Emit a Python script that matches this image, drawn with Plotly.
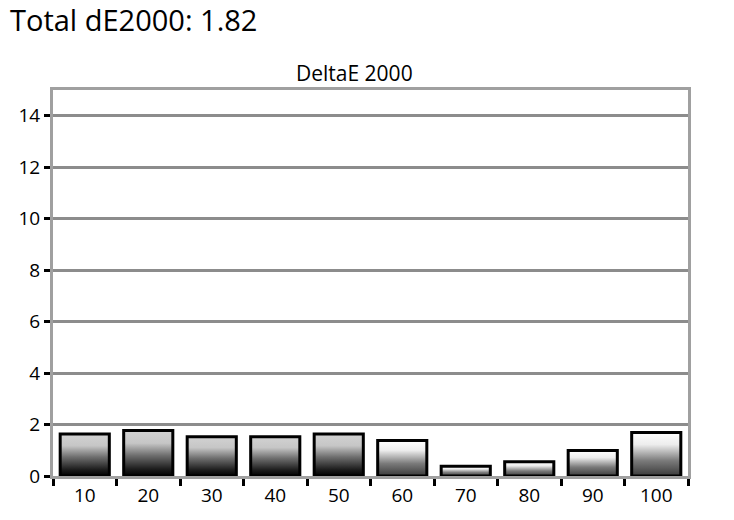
import plotly.graph_objects as go

categories = ["10", "20", "30", "40", "50", "60", "70", "80", "90", "100"]
delta_e = [1.63, 1.77, 1.53, 1.53, 1.63, 1.38, 0.38, 0.55, 0.99, 1.69]
y_ticks = [0, 2, 4, 6, 8, 10, 12, 14]
title_text = "Total dE2000: 1.82"
chart_label = "DeltaE 2000"

dark_scale = [[0, "#000000"], [0.15, "#1c1c1c"], [0.45, "#6e6e6e"], [0.72, "#c6c6c6"], [1, "#d2d2d2"]]
light_scale = [[0, "#3a3a3a"], [0.35, "#7a7a7a"], [0.72, "#ececec"], [1, "#ffffff"]]

FONT = "Open Sans"
half_w = 0.387

fig = go.Figure()
for i, (cat, v) in enumerate(zip(categories, delta_e)):
    scale = dark_scale if i < 5 else light_scale
    fig.add_trace(go.Scatter(
        x=[i - half_w, i - half_w, i + half_w, i + half_w, i - half_w],
        y=[0, v, v, 0, 0],
        mode="lines",
        fill="toself",
        fillgradient=dict(type="vertical", colorscale=scale),
        line=dict(color="black", width=3),
        name=cat,
        hoverinfo="skip",
        showlegend=False,
    ))

fig.update_layout(
    width=734, height=520,
    margin=dict(l=53, r=46, t=90, b=41),
    paper_bgcolor="white", plot_bgcolor="white",
    font=dict(family=FONT, color="black", size=19),
    title=dict(text=title_text, x=10 / 734, xanchor="left", xref="container",
               y=1 - 21 / 520, yanchor="middle", yref="container",
               font=dict(size=29, family=FONT, color="black")),
    annotations=[dict(text=chart_label, xref="paper", yref="paper",
                      x=(354 - 53) / 635, y=1 + 17 / 389, showarrow=False,
                      xanchor="center", yanchor="middle",
                      font=dict(size=21, family=FONT, color="black"))],
)

fig.update_xaxes(
    range=[-0.5, len(categories) - 0.5],
    tickmode="array", tickvals=list(range(len(categories))), ticktext=categories,
    ticks="", showgrid=False, zeroline=False,
    showline=True, linecolor="#a0a0a0", linewidth=3, mirror=True,
    tickfont=dict(size=19, family=FONT, color="black"),
    minor=dict(ticks="outside", ticklen=7, tickwidth=3, tickcolor="black",
               tick0=-0.5, dtick=1, showgrid=False),
    fixedrange=True,
)
fig.update_yaxes(
    range=[0, 15],
    tickmode="array", tickvals=y_ticks, ticktext=[str(t) for t in y_ticks],
    ticks="outside", ticklen=6, tickwidth=3, tickcolor="black",
    showgrid=True, gridcolor="#8c8c8c", gridwidth=3, zeroline=False,
    showline=True, linecolor="#a0a0a0", linewidth=3, mirror=True,
    tickfont=dict(size=19, family=FONT, color="black"),
    fixedrange=True,
)

fig.write_html("out.html", config={"displayModeBar": False},
               post_script="document.body.style.margin='0';document.body.style.padding='0';")
